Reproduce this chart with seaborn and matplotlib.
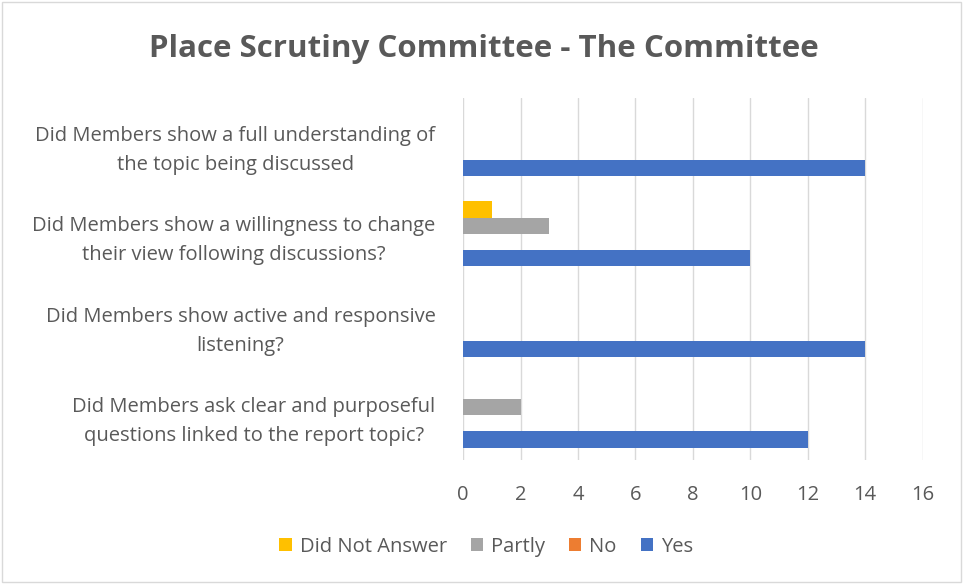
import pandas as pd
import matplotlib.pyplot as plt
import seaborn as sns

questions = [
    "Did Members show a full understanding of\nthe topic being discussed",
    "Did Members show a willingness to change\ntheir view following discussions?",
    "Did Members show active and responsive\nlistening?",
    "Did Members ask clear and purposeful\nquestions linked to the report topic?",
]
series = ["Did Not Answer", "Partly", "No", "Yes"]
did_not_answer = [0, 1, 0, 0]
partly = [0, 3, 0, 2]
no = [0, 0, 0, 0]
yes = [14, 10, 14, 12]
colors = ["#FFC000", "#A5A5A5", "#ED7D31", "#4472C4"]
x_ticks = [0, 2, 4, 6, 8, 10, 12, 14, 16]

rows = []
for name, vals in zip(series, [did_not_answer, partly, no, yes]):
    for q, v in zip(questions, vals):
        rows.append({"question": q, "answer": name, "count": v})
df = pd.DataFrame(rows)

sns.set_theme(style="white")
plt.rcParams["font.family"] = ["Open Sans", "DejaVu Sans"]
text_col = "#595959"

fig = plt.figure(figsize=(9.63, 5.84), dpi=100)
ax = fig.add_axes([0.481, 0.212, 0.477, 0.62])

sns.barplot(data=df, y="question", x="count", hue="answer", order=questions,
            hue_order=series, palette=colors, orient="h", width=0.72,
            saturation=1, ax=ax, legend=True, linewidth=0)

ax.set_xlim(0, 16)
ax.set_xticks(x_ticks)
ax.xaxis.grid(True, color="#D9D9D9", linewidth=1)
ax.set_axisbelow(True)
for s in ax.spines.values():
    s.set_visible(False)
ax.set_xlabel("")
ax.set_ylabel("")
ax.tick_params(axis="x", length=0, colors=text_col, labelsize=14.5, pad=18)
ax.tick_params(axis="y", length=0, colors=text_col, labelsize=14.5, pad=20)
for lbl in ax.get_yticklabels():
    lbl.set_multialignment("center")
    lbl.set_linespacing(1.6)
    lbl.set_color(text_col)

handles, labels = ax.get_legend_handles_labels()
ax.get_legend().remove()
fig.legend(handles, labels, loc="center", bbox_to_anchor=(0.505, 0.064), ncol=4,
           frameon=False, fontsize=14.5, labelcolor=text_col, handlelength=0.6,
           handleheight=0.6, columnspacing=1.2, handletextpad=0.4)

fig.text(0.502, 0.916, "Place Scrutiny Committee - The Committee", ha="center",
         va="center", fontsize=22.5, fontweight="bold", color=text_col)

fig.patches.append(plt.Rectangle((0.002, 0.003), 0.996, 0.994, transform=fig.transFigure,
                                 fill=False, edgecolor="#D9D9D9", linewidth=1))

fig.savefig("out.png", dpi=100)
